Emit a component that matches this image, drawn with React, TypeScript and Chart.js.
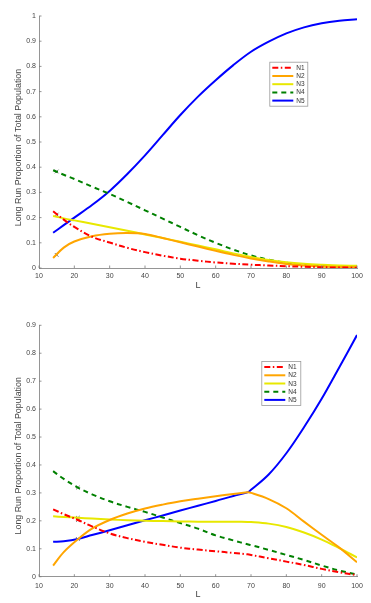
import React, { useEffect, useRef } from 'react';
import { Chart, registerables } from 'chart.js';

Chart.register(...registerables);

// ---------- data ----------
const SERIES_NAMES = ['N1', 'N2', 'N3', 'N4', 'N5'];
const Y_TITLE = 'Long Run Proportion of Total Population';
const X_TITLE = 'L';

const TOP_L = [14, 17, 20, 25, 30, 35, 40, 45, 50, 55, 60, 65, 70, 75, 80, 85, 90, 95, 100];
const TOP_N1 = [0.225, 0.192, 0.163, 0.124, 0.101, 0.080, 0.063, 0.049, 0.037, 0.029, 0.022, 0.017, 0.013, 0.010, 0.007, 0.005, 0.003, 0.002, 0.001];
const TOP_N2 = [0.040, 0.081, 0.105, 0.126, 0.136, 0.139, 0.135, 0.119, 0.102, 0.085, 0.068, 0.052, 0.038, 0.026, 0.016, 0.010, 0.006, 0.004, 0.003];
const TOP_N3 = [0.206, 0.197, 0.189, 0.176, 0.162, 0.148, 0.133, 0.119, 0.104, 0.089, 0.074, 0.058, 0.044, 0.032, 0.023, 0.017, 0.013, 0.010, 0.009];
const TOP_N4 = [0.388, 0.370, 0.353, 0.323, 0.294, 0.262, 0.229, 0.196, 0.163, 0.130, 0.100, 0.073, 0.050, 0.033, 0.021, 0.013, 0.008, 0.005, 0.003];
const TOP_N5 = [0.140, 0.170, 0.200, 0.250, 0.306, 0.373, 0.447, 0.527, 0.607, 0.680, 0.745, 0.805, 0.858, 0.898, 0.931, 0.955, 0.971, 0.981, 0.987];
const TOP_MARK_L = [15, 15, 15];
const TOP_MARK_V = [0.212, 0.052, 0.383];

const BOT_L = [14, 17, 21, 25, 30, 35, 40, 45, 50, 55, 60, 65, 69, 70, 75, 80, 85, 90, 95, 100];
const BOT_N1 = [0.241, 0.224, 0.203, 0.180, 0.155, 0.138, 0.125, 0.114, 0.104, 0.097, 0.091, 0.085, 0.080, 0.078, 0.066, 0.054, 0.042, 0.028, 0.016, 0.005];
const BOT_N2 = [0.040, 0.088, 0.134, 0.172, 0.203, 0.226, 0.244, 0.258, 0.270, 0.279, 0.288, 0.296, 0.302, 0.300, 0.278, 0.245, 0.197, 0.150, 0.104, 0.052];
const BOT_N3 = [0.216, 0.214, 0.211, 0.208, 0.205, 0.202, 0.200, 0.199, 0.198, 0.197, 0.197, 0.197, 0.196, 0.196, 0.190, 0.178, 0.158, 0.133, 0.102, 0.069];
const BOT_N4 = [0.378, 0.350, 0.319, 0.295, 0.270, 0.250, 0.232, 0.212, 0.192, 0.172, 0.148, 0.130, 0.116, 0.113, 0.096, 0.078, 0.060, 0.040, 0.022, 0.008];
const BOT_N5 = [0.125, 0.127, 0.135, 0.149, 0.166, 0.184, 0.202, 0.219, 0.237, 0.254, 0.271, 0.289, 0.302, 0.311, 0.366, 0.442, 0.535, 0.637, 0.750, 0.865];
const BOT_MARK_L = [21, 21, 21, 21];
const BOT_MARK_V = [0.203, 0.211, 0.319, 0.135];

const X_TICKS = [10, 20, 30, 40, 50, 60, 70, 80, 90, 100];

// ---------- styles ----------
const COLORS = ['#ff0000', '#ffa500', '#e8e800', '#008000', '#0000ff'];
const DASHES: number[][] = [[6, 2.5, 1.5, 2.5], [], [], [5, 4], []];
const WIDTHS = [2, 2, 2, 2, 2];
const FONT = '"Liberation Sans", Arial, Helvetica, sans-serif';
const AXIS_COLOR = '#7a7a7a';
const TEXT_COLOR = '#444444';

type Layout = {
  w: number; h: number; padTop: number; padRight: number;
  yAxisW: number; xAxisH: number; xTitlePad: number; xTickPad: number;
  yTitleX: number; yTitleShift: number;
  legendDx: number; legendDy: number; legendW: number; legendH: number;
};

const inwardTicks = {
  id: 'inwardTicks',
  afterDraw(chart: any) {
    const { ctx, chartArea, scales } = chart;
    ctx.save();
    ctx.strokeStyle = AXIS_COLOR;
    ctx.lineWidth = 0.8;
    ctx.beginPath();
    scales.x.ticks.forEach((t: any) => {
      const px = scales.x.getPixelForValue(t.value);
      ctx.moveTo(px, chartArea.bottom);
      ctx.lineTo(px, chartArea.bottom - 2.5);
    });
    scales.y.ticks.forEach((t: any) => {
      const py = scales.y.getPixelForValue(t.value);
      ctx.moveTo(chartArea.left, py);
      ctx.lineTo(chartArea.left + 2.5, py);
    });
    ctx.stroke();
    ctx.restore();
  },
};

const yTitle = {
  id: 'yTitle',
  afterDraw(chart: any, _args: any, opts: any) {
    const { ctx, chartArea } = chart;
    ctx.save();
    ctx.translate(opts.x, (chartArea.top + chartArea.bottom) / 2 + opts.shift);
    ctx.rotate(-Math.PI / 2);
    ctx.font = `8.9px ${FONT}`;
    ctx.fillStyle = TEXT_COLOR;
    ctx.textAlign = 'center';
    ctx.textBaseline = 'middle';
    ctx.fillText(Y_TITLE, 0, 0);
    ctx.restore();
  },
};

const boxLegend = {
  id: 'boxLegend',
  afterDraw(chart: any, _args: any, opts: any) {
    const { ctx, chartArea } = chart;
    const x0 = chartArea.left + opts.dx;
    const y0 = chartArea.top + opts.dy;
    const w = opts.w;
    const h = opts.h;
    ctx.save();
    ctx.fillStyle = '#ffffff';
    ctx.fillRect(x0, y0, w, h);
    ctx.strokeStyle = '#9a9a9a';
    ctx.lineWidth = 0.8;
    ctx.strokeRect(x0 + 0.5, y0 + 0.5, w - 1, h - 1);
    const n = SERIES_NAMES.length;
    const rowH = (h - 4) / n;
    ctx.font = `6.5px ${FONT}`;
    ctx.textBaseline = 'middle';
    ctx.textAlign = 'left';
    for (let i = 0; i < n; i++) {
      const cy = y0 + 2 + rowH * (i + 0.5);
      ctx.beginPath();
      ctx.setLineDash(DASHES[i]);
      ctx.strokeStyle = COLORS[i];
      ctx.lineWidth = WIDTHS[i];
      ctx.moveTo(x0 + 3, cy);
      ctx.lineTo(x0 + 24, cy);
      ctx.stroke();
      ctx.setLineDash([]);
      ctx.fillStyle = '#333333';
      ctx.fillText(SERIES_NAMES[i], x0 + 27, cy + 0.3);
    }
    ctx.restore();
  },
};

function buildConfig(xs: number[], ys: number[][], markL: number[], markV: number[], yMax: number, lay: Layout): any {
  const datasets: any[] = ys.map((vals, i) => ({
    label: SERIES_NAMES[i],
    data: xs.map((x, j) => ({ x, y: vals[j] })),
    borderColor: COLORS[i],
    backgroundColor: COLORS[i],
    borderWidth: WIDTHS[i],
    borderDash: DASHES[i],
    pointRadius: 0,
    fill: false,
    tension: 0.35,
  }));
  datasets.push({
    label: 'marks',
    type: 'scatter',
    data: markL.map((x, j) => ({ x, y: markV[j] })),
    pointStyle: 'crossRot',
    pointRadius: 2.6,
    borderColor: '#666666',
    backgroundColor: '#666666',
    borderWidth: 0.9,
    showLine: false,
  });
  return {
    type: 'line',
    data: { datasets },
    options: {
      animation: false,
      responsive: false,
      maintainAspectRatio: false,
      devicePixelRatio: 1,
      events: [],
      layout: { padding: { top: lay.padTop, right: lay.padRight, left: 0, bottom: 0 } },
      plugins: {
        legend: { display: false },
        tooltip: { enabled: false },
        boxLegend: { dx: lay.legendDx, dy: lay.legendDy, w: lay.legendW, h: lay.legendH },
        yTitle: { x: lay.yTitleX, shift: lay.yTitleShift },
      },
      scales: {
        x: {
          type: 'linear',
          min: 10,
          max: 100,
          afterFit: (s: any) => { s.height = lay.xAxisH; },
          afterBuildTicks: (s: any) => { s.ticks = X_TICKS.map((v) => ({ value: v })); },
          grid: { display: false, drawTicks: false },
          border: { display: true, color: AXIS_COLOR, width: 0.8 },
          ticks: {
            padding: lay.xTickPad,
            color: TEXT_COLOR,
            font: { family: FONT, size: 7 },
            maxRotation: 0,
            callback: (v: any) => String(v),
          },
          title: {
            display: true,
            text: X_TITLE,
            color: TEXT_COLOR,
            font: { family: FONT, size: 9 },
            padding: { top: 0, bottom: lay.xTitlePad },
          },
        },
        y: {
          type: 'linear',
          min: 0,
          max: yMax,
          afterFit: (s: any) => { s.width = lay.yAxisW; },
          grid: { display: false, drawTicks: false },
          border: { display: true, color: AXIS_COLOR, width: 0.8 },
          ticks: {
            stepSize: 0.1,
            padding: 3,
            color: TEXT_COLOR,
            font: { family: FONT, size: 7 },
            callback: (v: any) => String(Math.round(v * 10) / 10),
          },
          title: { display: false },
        },
      },
    },
    plugins: [inwardTicks, boxLegend, yTitle],
  };
}

const TOP_LAYOUT: Layout = {
  w: 371, h: 300, padTop: 16, padRight: 14, yAxisW: 39, xAxisH: 32, xTitlePad: 8.6, xTickPad: 4,
  yTitleX: 19, yTitleShift: 5.5,
  legendDx: 230.3, legendDy: 45.7, legendW: 39, legendH: 45,
};
const BOT_LAYOUT: Layout = {
  w: 371, h: 303, padTop: 25.3, padRight: 14, yAxisW: 39, xAxisH: 26.3, xTitlePad: 2.6, xTickPad: 5,
  yTitleX: 19, yTitleShift: 4.8,
  legendDx: 222.3, legendDy: 35.7, legendW: 40, legendH: 45,
};

function ChartCanvas(props: { cfg: () => any; lay: Layout; top: number }) {
  const ref = useRef<HTMLCanvasElement | null>(null);
  useEffect(() => {
    if (!ref.current) return;
    const chart = new Chart(ref.current, props.cfg());
    return () => chart.destroy();
  }, []);
  return (
    <canvas
      ref={ref}
      width={props.lay.w}
      height={props.lay.h}
      style={{ position: 'absolute', left: 0, top: props.top, width: props.lay.w, height: props.lay.h, display: 'block' }}
    />
  );
}

export default function App() {
  return (
    <div style={{ position: 'absolute', left: 0, top: 0, width: 371, height: 603, background: '#ffffff', overflow: 'hidden' }}>
      <ChartCanvas
        lay={TOP_LAYOUT}
        top={0}
        cfg={() => buildConfig(TOP_L, [TOP_N1, TOP_N2, TOP_N3, TOP_N4, TOP_N5], TOP_MARK_L, TOP_MARK_V, 1, TOP_LAYOUT)}
      />
      <ChartCanvas
        lay={BOT_LAYOUT}
        top={300}
        cfg={() => buildConfig(BOT_L, [BOT_N1, BOT_N2, BOT_N3, BOT_N4, BOT_N5], BOT_MARK_L, BOT_MARK_V, 0.9, BOT_LAYOUT)}
      />
    </div>
  );
}
